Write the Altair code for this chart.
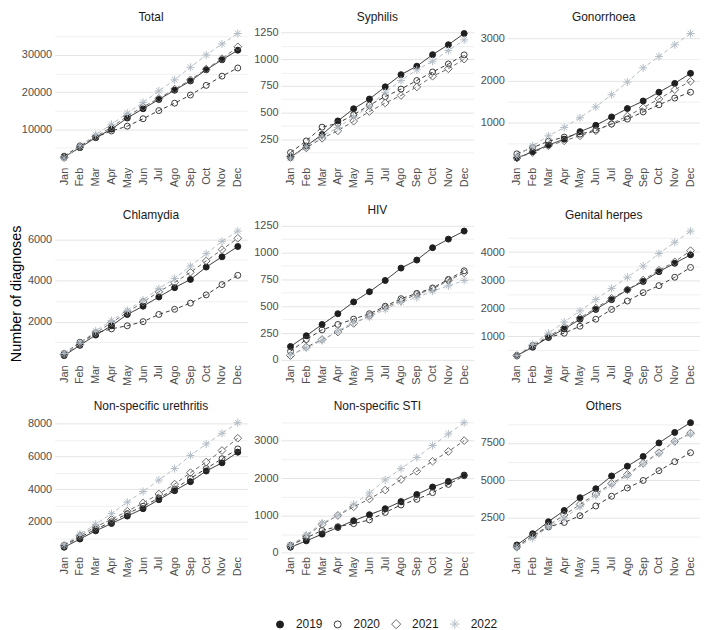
import altair as alt
import pandas as pd

months = ["Jan", "Feb", "Mar", "Apr", "May", "Jun", "Jul", "Ago", "Sep", "Oct", "Nov", "Dec"]
years = ["2019", "2020", "2021", "2022"]
diseases = ["Total", "Syphilis", "Gonorrhoea", "Chlamydia", "HIV", "Genital herpes",
            "Non-specific urethritis", "Non-specific STI", "Others"]

total_2019 = [2500, 5000, 7700, 10000, 13000, 15500, 18000, 20500, 23000, 26000, 28700, 31300]
total_2020 = [2700, 5500, 7800, 9500, 10800, 12800, 15000, 17000, 19200, 21800, 24300, 26500]
total_2021 = [2300, 5200, 8000, 10500, 13500, 16000, 18300, 20800, 23300, 26200, 29000, 32200]
total_2022 = [2200, 5500, 8500, 11300, 14300, 17200, 20300, 23300, 26700, 30000, 33000, 35800]

syph_2019 = [81, 187, 295, 422, 536, 627, 741, 855, 934, 1042, 1135, 1240]
syph_2020 = [126, 235, 364, 400, 480, 570, 650, 720, 800, 880, 955, 1040]
syph_2021 = [90, 170, 260, 330, 420, 510, 590, 660, 740, 840, 910, 1000]
syph_2022 = [75, 180, 280, 360, 460, 560, 690, 800, 900, 980, 1080, 1180]

gono_2019 = [150, 300, 460, 600, 780, 930, 1130, 1330, 1510, 1720, 1930, 2170]
gono_2020 = [250, 400, 550, 650, 720, 820, 960, 1080, 1250, 1420, 1580, 1720]
gono_2021 = [150, 280, 440, 560, 680, 800, 970, 1150, 1350, 1560, 1780, 1980]
gono_2022 = [200, 440, 680, 880, 1110, 1370, 1660, 1960, 2300, 2570, 2850, 3120]

chla_2019 = [350, 850, 1350, 1800, 2350, 2750, 3200, 3650, 4050, 4650, 5150, 5650]
chla_2020 = [450, 1000, 1450, 1650, 1800, 2000, 2350, 2600, 2900, 3300, 3800, 4250]
chla_2021 = [400, 900, 1450, 1950, 2450, 2950, 3450, 3900, 4400, 4950, 5500, 6050]
chla_2022 = [450, 950, 1550, 2050, 2550, 3050, 3600, 4100, 4700, 5300, 5900, 6400]

hiv_2019 = [125, 225, 330, 430, 540, 635, 740, 855, 930, 1045, 1125, 1200]
hiv_2020 = [80, 190, 280, 330, 380, 430, 500, 570, 620, 670, 750, 830]
hiv_2021 = [40, 120, 190, 260, 340, 410, 490, 550, 610, 660, 740, 810]
hiv_2022 = [50, 110, 180, 270, 350, 400, 470, 540, 580, 640, 690, 740]

herp_2019 = [300, 600, 950, 1250, 1600, 1950, 2300, 2650, 2950, 3300, 3600, 3900]
herp_2020 = [300, 650, 950, 1100, 1350, 1600, 1950, 2250, 2550, 2800, 3100, 3450]
herp_2021 = [300, 650, 1000, 1300, 1650, 2000, 2350, 2650, 3000, 3350, 3650, 4050]
herp_2022 = [300, 700, 1100, 1500, 1900, 2300, 2700, 3100, 3500, 3950, 4350, 4750]

nsu_2019 = [450, 950, 1450, 1900, 2350, 2800, 3350, 3900, 4450, 5100, 5600, 6250]
nsu_2020 = [550, 1050, 1550, 2000, 2500, 2950, 3450, 4000, 4650, 5250, 5850, 6450]
nsu_2021 = [550, 1150, 1700, 2150, 2650, 3150, 3700, 4300, 5000, 5650, 6350, 7100]
nsu_2022 = [600, 1250, 1850, 2500, 3200, 3850, 4550, 5250, 6050, 6750, 7400, 8050]

nss_2019 = [150, 320, 500, 680, 860, 1020, 1180, 1370, 1560, 1760, 1910, 2080]
nss_2020 = [200, 400, 600, 700, 780, 880, 1080, 1280, 1430, 1610, 1830, 2060]
nss_2021 = [180, 450, 760, 1000, 1230, 1440, 1680, 1960, 2180, 2450, 2710, 3000]
nss_2022 = [200, 480, 800, 1000, 1300, 1600, 1950, 2250, 2550, 2870, 3180, 3480]

oth_2019 = [700, 1450, 2250, 3000, 3850, 4450, 5300, 5950, 6600, 7500, 8200, 8850]
oth_2020 = [600, 1300, 1900, 2200, 2650, 3300, 3950, 4500, 5000, 5650, 6250, 6850]
oth_2021 = [550, 1300, 2000, 2700, 3400, 4100, 4800, 5400, 6150, 6850, 7600, 8150]
oth_2022 = [550, 1150, 1900, 2500, 3250, 4000, 4700, 5300, 6100, 6800, 7600, 8100]

series = {
    "Total": [total_2019, total_2020, total_2021, total_2022],
    "Syphilis": [syph_2019, syph_2020, syph_2021, syph_2022],
    "Gonorrhoea": [gono_2019, gono_2020, gono_2021, gono_2022],
    "Chlamydia": [chla_2019, chla_2020, chla_2021, chla_2022],
    "HIV": [hiv_2019, hiv_2020, hiv_2021, hiv_2022],
    "Genital herpes": [herp_2019, herp_2020, herp_2021, herp_2022],
    "Non-specific urethritis": [nsu_2019, nsu_2020, nsu_2021, nsu_2022],
    "Non-specific STI": [nss_2019, nss_2020, nss_2021, nss_2022],
    "Others": [oth_2019, oth_2020, oth_2021, oth_2022],
}

major_ticks = {
    "Total": [10000, 20000, 30000],
    "Syphilis": [250, 500, 750, 1000, 1250],
    "Gonorrhoea": [0, 1000, 2000, 3000],
    "Chlamydia": [2000, 4000, 6000],
    "HIV": [0, 250, 500, 750, 1000, 1250],
    "Genital herpes": [1000, 2000, 3000, 4000],
    "Non-specific urethritis": [2000, 4000, 6000, 8000],
    "Non-specific STI": [0, 1000, 2000, 3000],
    "Others": [2500, 5000, 7500],
}

rows = []
for dname in diseases:
    for yr, vals in zip(years, series[dname]):
        for m, v in zip(months, vals):
            rows.append({"disease": dname, "year": yr, "month": m, "n": v})
df = pd.DataFrame(rows)

line_colors = ["#1f1f1f", "#3a3a3a", "#6a6a6a", "#b3bcc5"]
fill_colors = ["#1f1f1f", "transparent", "transparent", "transparent"]
asterisk = "M-1.35,0L1.35,0M0,-1.35L0,1.35M-0.95,-0.95L0.95,0.95M-0.95,0.95L0.95,-0.95"
diamond = "M0,-1.3L1.3,0L0,1.3L-1.3,0Z"
shapes = ["circle", "circle", diamond, asterisk]

stroke_enc = alt.Stroke("year:N", scale=alt.Scale(domain=years, range=line_colors),
                        legend=alt.Legend(title=None))
fill_enc = alt.Fill("year:N", scale=alt.Scale(domain=years, range=fill_colors),
                    legend=alt.Legend(title=None))
shape_enc = alt.Shape("year:N", scale=alt.Scale(domain=years, range=shapes),
                      legend=alt.Legend(title=None))
dash_enc = alt.condition("datum.year == '2019'", alt.value([1, 0]), alt.value([4, 3]))


def panel(dname, ytitle=None):
    d = df[df.disease == dname]
    lo, hi = float(d.n.min()), float(d.n.max())
    pad = (hi - lo) * 0.05
    majors = major_ticks[dname]
    step = majors[1] - majors[0]
    cands = [majors[0] - step / 2] + majors + [m + step / 2 for m in majors]
    allv = sorted(v for v in set(cands) if lo - pad <= v <= hi + pad)
    test = "indexof(%s, datum.value) >= 0" % str(majors)
    axis_kw = dict(
        values=allv,
        labelExpr="%s ? datum.label : ''" % test,
        format="d",
        gridColor={"condition": {"test": test, "value": "#e4e4e4"}, "value": "#f0f0f0"},
        ticks=False,
        domain=False,
        labelColor="#4d4d4d",
        labelFontSize=11,
        labelPadding=3,
        minExtent=30,
        maxExtent=30,
    )
    if ytitle:
        axis_kw.update(title=ytitle, titleFontSize=14.5, titleFontWeight="normal",
                       titleColor="#000000", titlePadding=1)
    else:
        axis_kw.update(title=None)
    x = alt.X("month:O", sort=months, scale=alt.Scale(type="point", padding=0.6),
              axis=alt.Axis(title=None, labelAngle=270, grid=False, ticks=False, domain=False,
                            labelColor="#4d4d4d", labelFontSize=11, labelPadding=3))
    y = alt.Y("n:Q", scale=alt.Scale(domain=[lo - pad, hi + pad], nice=False, zero=False),
              axis=alt.Axis(**axis_kw))
    base = alt.Chart(d)
    line = base.mark_line(strokeWidth=1).encode(x=x, y=y, stroke=stroke_enc, strokeDash=dash_enc,
                                                detail="year:N")
    pts = base.mark_point(size=36, strokeWidth=1, opacity=1).encode(
        x=x, y=y, stroke=stroke_enc, fill=fill_enc, shape=shape_enc)
    return alt.layer(line, pts).properties(
        width=194, height=138,
        title=alt.TitleParams(dname, fontSize=12, fontWeight="normal", color="#1a1a1a", offset=3),
    )


panels = [panel(dn, "Number of diagnoses" if dn == "Chlamydia" else None) for dn in diseases]

chart = alt.concat(*panels, columns=3, spacing={"row": 15, "column": 4}).resolve_scale(
    x="independent", y="independent", stroke="shared", fill="shared", shape="shared"
).properties(
    padding={"left": 0, "top": 0, "right": 0, "bottom": 40}
).configure(
    font="Liberation Sans"
).configure_view(
    stroke=None
).configure_legend(
    orient="none", legendX=221, legendY=595, direction="horizontal", labelFontSize=12,
    labelColor="#1a1a1a", symbolSize=50, symbolStrokeWidth=1, columnPadding=9, labelOffset=10
)

chart.save("out.html", embed_options={"renderer": "svg", "actions": False})
